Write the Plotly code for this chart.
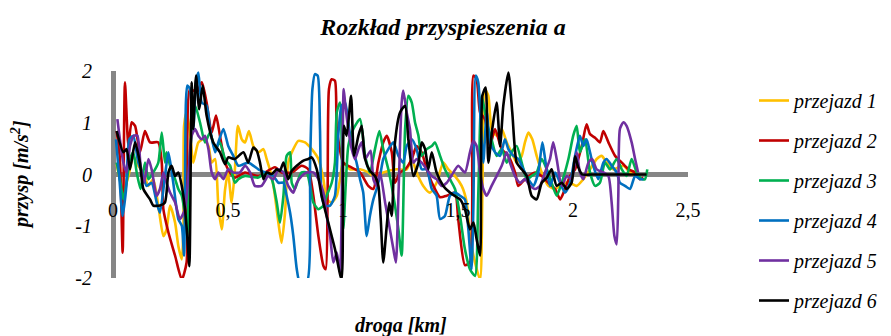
import plotly.graph_objects as go

title_text = "Rozkład przyspieszenia a"
x_title = "droga [km]"
y_title = "przysp [m/s<sup>2</sup>]"
series_names = ["przejazd 1", "przejazd 2", "przejazd 3", "przejazd 4", "przejazd 5", "przejazd 6"]
series_colors = ["#FFC000", "#C00000", "#00B050", "#0070C0", "#7030A0", "#000000"]
x_tick_vals = [0, 0.5, 1, 1.5, 2, 2.5]
x_tick_text = ["0", "0,5", "1", "1,5", "2", "2,5"]
y_tick_vals = [-2, -1, 0, 1, 2]
y_tick_text = ["-2", "-1", "0", "1", "2"]

# (droga [km], przyspieszenie [m/s2])
p1 = [(0.016, 0.20), (0.045, -0.35), (0.067, -0.03), (0.088, 0.36), (0.110, 0.17), (0.132, 0.04),
      (0.154, -0.22), (0.175, -0.09), (0.197, -0.60), (0.219, -1.19), (0.233, -1.06), (0.248, -0.60),
      (0.270, -0.93), (0.284, -1.38), (0.299, -1.64), (0.306, -1.06), (0.309, 0.94), (0.320, 1.20),
      (0.335, 0.81), (0.349, 0.23), (0.371, 0.62), (0.393, 0.68), (0.415, 0.55), (0.429, 0.23),
      (0.444, 0.30), (0.458, -0.60), (0.473, -1.06), (0.487, -0.30), (0.500, 0.04), (0.516, -0.54),
      (0.530, 0.10), (0.543, 0.94), (0.560, 0.68), (0.574, 0.62), (0.591, 0.84), (0.610, 0.55),
      (0.632, 0.43), (0.654, 0.49), (0.668, 0.30), (0.690, -0.03), (0.704, -0.41), (0.719, -0.93),
      (0.733, -1.32), (0.748, -0.74), (0.762, 0.23), (0.784, 0.49), (0.806, 0.65), (0.835, 0.62),
      (0.864, 0.49), (0.893, 0.30), (0.915, -0.09), (0.929, -0.48), (0.951, -0.54), (0.973, -0.41),
      (0.987, -0.09), (1.000, 0.23), (1.030, 0.10), (1.074, 0.10), (1.110, 0.04), (1.132, -0.03),
      (1.175, 0.04), (1.233, 0.10), (1.277, 0.10), (1.299, 0.30), (1.320, 0.04), (1.349, -0.22),
      (1.378, -0.35), (1.407, -0.16), (1.436, 0.23), (1.458, 0.10), (1.487, -0.03), (1.516, -0.22),
      (1.538, -0.54), (1.552, -1.19), (1.574, -1.70), (1.596, -2.03), (1.606, -0.41), (1.617, 1.65),
      (1.632, 1.52), (1.646, 0.88), (1.668, 0.75), (1.690, 0.88), (1.712, 0.62), (1.733, 0.43),
      (1.755, 0.23), (1.777, 0.36), (1.791, 0.62), (1.806, 0.81), (1.823, 0.68), (1.842, 0.36),
      (1.864, 0.04), (1.893, -0.22), (1.922, -0.28), (1.965, -0.16), (1.987, -0.16), (2.016, -0.22),
      (2.045, -0.09), (2.074, 0.10), (2.103, 0.30), (2.125, 0.36), (2.146, 0.23), (2.175, 0.10),
      (2.219, 0.17), (2.248, 0.04), (2.277, -0.03)]

p2 = [(0.016, 0.84), (0.030, 0.30), (0.042, -1.51), (0.052, 1.78), (0.067, 0.55), (0.081, 1.01),
      (0.096, 0.94), (0.117, 0.43), (0.139, 0.84), (0.161, 0.62), (0.197, 0.62), (0.212, 0.23),
      (0.219, -0.67), (0.241, -1.12), (0.270, -1.57), (0.299, -2.03), (0.320, -1.70), (0.335, 1.65),
      (0.364, 1.59), (0.386, 1.78), (0.407, 1.39), (0.429, 0.81), (0.448, 1.14), (0.465, 0.75),
      (0.487, 0.23), (0.509, 0.04), (0.530, -0.06), (0.574, 0.04), (0.632, -0.03), (0.704, 0.14),
      (0.733, 0.04), (0.777, 0.04), (0.820, 0.17), (0.849, 0.10), (0.871, -0.41), (0.893, -1.19),
      (0.915, -1.77), (0.925, -1.83), (0.933, -0.41), (0.939, 1.65), (0.951, 1.84), (0.965, 1.81),
      (0.973, 0.88), (1.001, 0.23), (1.030, 0.15), (1.074, 0.04), (1.110, -0.22), (1.132, -0.28),
      (1.154, 0.23), (1.175, 0.62), (1.190, 0.75), (1.212, 0.43), (1.226, -0.16), (1.248, 0.04),
      (1.270, 0.10), (1.299, 0.30), (1.320, 0.55), (1.342, 0.43), (1.364, 0.10), (1.393, -0.22),
      (1.422, -0.44), (1.451, -0.41), (1.487, -0.35), (1.501, -0.86), (1.530, -1.75), (1.552, -1.70),
      (1.567, 1.91), (1.581, 1.84), (1.596, 1.20), (1.617, 1.07), (1.639, 0.55), (1.661, 0.88),
      (1.690, 0.49), (1.719, 0.36), (1.748, 0.04), (1.762, -0.22), (1.791, -0.09), (1.835, 0.04),
      (1.864, -0.03), (1.893, -0.16), (1.922, -0.28), (1.944, -0.48), (1.965, -0.28), (1.987, -0.03),
      (2.009, 0.10), (2.038, 0.55), (2.059, 0.97), (2.074, 0.78), (2.096, 0.71), (2.117, 0.62),
      (2.132, 0.84), (2.154, 0.62), (2.183, 0.36), (2.212, 0.23), (2.241, 0.10), (2.270, 0.04),
      (2.291, -0.09), (2.306, -0.06)]

p3 = [(0.016, 0.23), (0.030, -0.09), (0.045, -0.48), (0.059, -0.16), (0.074, 0.30), (0.088, 0.43),
      (0.103, 0.04), (0.120, -0.28), (0.139, 0.23), (0.154, -0.09), (0.175, 0.04), (0.197, 0.23),
      (0.212, 0.81), (0.226, 0.23), (0.233, 0.43), (0.248, 0.17), (0.270, -0.09), (0.284, -0.28),
      (0.299, -0.41), (0.313, -0.80), (0.323, -1.19), (0.332, 0.23), (0.357, 1.33), (0.378, 1.01),
      (0.400, 0.62), (0.422, 0.81), (0.444, 0.49), (0.465, 0.62), (0.487, 0.30), (0.509, 0.17),
      (0.530, -0.16), (0.545, -0.09), (0.574, -0.03), (0.632, -0.06), (0.661, 0.04), (0.690, -0.09),
      (0.712, -0.54), (0.726, -0.93), (0.741, -0.41), (0.755, 0.36), (0.770, 0.43), (0.777, -0.16),
      (0.791, -0.28), (0.806, -0.09), (0.820, 0.04), (0.842, 0.04), (0.857, -0.22), (0.871, -0.54),
      (0.893, -0.67), (0.915, -0.60), (0.929, -0.41), (0.951, -0.16), (0.965, 0.23), (0.973, 1.20),
      (0.987, 1.39), (1.001, -1.06), (1.023, 0.55), (1.045, 0.88), (1.074, 1.07), (1.096, 0.36),
      (1.117, 0.04), (1.139, 0.49), (1.158, 0.84), (1.175, 0.49), (1.197, 0.10), (1.219, -0.41),
      (1.241, -1.06), (1.255, -1.57), (1.270, 0.88), (1.284, 1.52), (1.299, 1.39), (1.313, 1.01),
      (1.328, 0.75), (1.342, 0.36), (1.364, 0.49), (1.386, 0.55), (1.400, 0.62), (1.422, 0.36),
      (1.443, 0.10), (1.465, -0.09), (1.487, -0.28), (1.509, -0.80), (1.530, -1.44), (1.552, -1.83),
      (1.574, -1.96), (1.588, -0.41), (1.603, 1.52), (1.625, 1.01), (1.646, 0.68), (1.668, 0.36),
      (1.690, 0.49), (1.712, 0.23), (1.733, 0.43), (1.755, 0.55), (1.777, 0.23), (1.799, -0.09),
      (1.820, -0.03), (1.842, 0.04), (1.864, 0.30), (1.886, 0.10), (1.907, -0.16), (1.929, -0.41),
      (1.951, -0.16), (1.980, 0.30), (2.001, 0.75), (2.016, 0.94), (2.030, 0.43), (2.052, 0.68),
      (2.074, 0.04), (2.096, -0.22), (2.117, -0.16), (2.139, 0.23), (2.161, 0.10), (2.190, 0.30),
      (2.212, 0.10), (2.233, -0.03), (2.255, 0.30), (2.277, 0.04), (2.299, -0.09), (2.313, -0.09),
      (2.323, 0.10)]

p4 = [(0.013, 0.68), (0.028, -0.09), (0.042, -0.80), (0.057, -0.28), (0.071, 0.68), (0.088, 0.75),
      (0.110, 0.23), (0.132, -0.03), (0.146, -0.22), (0.168, -0.16), (0.190, -0.54), (0.204, -0.74),
      (0.226, -0.03), (0.241, 0.43), (0.262, -0.16), (0.284, -0.86), (0.299, -0.99), (0.309, -1.57),
      (0.317, 1.39), (0.323, 1.72), (0.335, 1.65), (0.349, 0.88), (0.361, 1.78), (0.371, 1.97),
      (0.386, 1.39), (0.407, 1.33), (0.422, 0.88), (0.444, 0.43), (0.458, 0.62), (0.480, 0.88),
      (0.501, 0.55), (0.523, 0.36), (0.545, 0.17), (0.588, 0.23), (0.632, 0.10), (0.661, 0.04),
      (0.697, -0.03), (0.719, -0.16), (0.741, -0.16), (0.755, -0.41), (0.770, -0.74), (0.784, -1.19),
      (0.799, -1.83), (0.813, -2.10), (0.845, -2.05), (0.857, 0.23), (0.867, 1.65), (0.878, 1.94),
      (0.890, 1.91), (0.900, 0.88), (0.907, -0.41), (0.922, -0.60), (0.944, -0.60), (0.965, -0.41),
      (0.980, 0.80), (0.994, 1.33), (1.009, 1.39), (1.023, 1.01), (1.038, 0.55), (1.059, 0.23),
      (1.074, -0.09), (1.088, -0.35), (1.103, -1.19), (1.117, -0.80), (1.132, -0.48), (1.146, -0.28),
      (1.161, -0.03), (1.175, 0.30), (1.197, 0.49), (1.219, 0.62), (1.241, 0.36), (1.262, 0.23),
      (1.277, 0.55), (1.299, 0.68), (1.320, 0.49), (1.342, 0.10), (1.364, 0.10), (1.386, -0.28),
      (1.407, -0.41), (1.422, -0.86), (1.443, -0.80), (1.465, -0.41), (1.487, -0.35), (1.509, -0.41),
      (1.530, -0.48), (1.545, -1.06), (1.559, -1.83), (1.567, -0.60), (1.577, 1.91), (1.588, 1.78),
      (1.600, 0.88), (1.610, 0.23), (1.625, 1.20), (1.639, 0.62), (1.661, 0.43), (1.683, 0.36),
      (1.704, 0.68), (1.719, 0.49), (1.741, 0.36), (1.762, 0.30), (1.784, 0.10), (1.806, -0.09),
      (1.828, -0.22), (1.849, 0.04), (1.867, 0.62), (1.881, 0.23), (1.900, -0.22), (1.922, 0.04),
      (1.944, -0.16), (1.965, -0.35), (1.987, -0.16), (2.009, 0.36), (2.030, 0.75), (2.045, 0.55),
      (2.059, 0.68), (2.074, 0.43), (2.088, 0.17), (2.110, -0.09), (2.132, 0.23), (2.146, 0.30),
      (2.168, 0.17), (2.190, 0.04), (2.204, -0.16), (2.226, -0.22), (2.248, -0.28), (2.270, -0.03),
      (2.291, -0.09), (2.306, -0.09)]

p5 = [(0.019, 1.07), (0.030, 0.68), (0.045, 0.23), (0.059, 0.04), (0.074, 0.55), (0.091, 0.75),
      (0.106, 0.75), (0.120, 0.17), (0.135, -0.16), (0.154, 0.30), (0.168, 0.10), (0.190, -0.41),
      (0.204, -0.28), (0.219, 0.04), (0.233, -0.16), (0.248, -0.35), (0.270, -0.54), (0.291, -0.86),
      (0.313, -0.67), (0.328, -0.03), (0.342, 0.75), (0.357, 0.88), (0.371, 0.75), (0.386, 0.68),
      (0.400, 0.75), (0.415, 0.49), (0.429, 0.04), (0.444, -0.09), (0.458, 0.04), (0.480, -0.09),
      (0.501, 0.10), (0.523, 0.04), (0.552, 0.04), (0.574, 0.17), (0.596, 0.04), (0.617, -0.22),
      (0.646, -0.22), (0.675, -0.03), (0.697, -0.09), (0.719, 0.10), (0.741, 0.04), (0.762, -0.22),
      (0.784, -0.35), (0.799, -0.16), (0.820, -0.03), (0.842, 0.04), (0.871, 0.04), (0.893, -0.09),
      (0.915, -0.35), (0.929, -0.80), (0.944, -1.19), (0.958, -1.70), (0.973, -1.51), (0.987, -1.90),
      (0.997, 0.23), (1.003, 1.65), (1.009, 1.39), (1.023, 0.88), (1.038, 0.49), (1.052, 0.30),
      (1.067, 0.49), (1.081, 0.62), (1.096, 0.30), (1.120, 0.46), (1.132, -0.09), (1.146, -0.22),
      (1.161, 0.04), (1.183, -0.54), (1.204, -1.06), (1.219, -1.44), (1.230, -1.70), (1.241, -0.41),
      (1.255, 1.39), (1.262, 1.62), (1.277, 1.20), (1.291, 0.88), (1.306, 0.23), (1.320, 0.30),
      (1.342, 0.23), (1.364, 0.10), (1.386, -0.03), (1.407, -0.09), (1.429, -0.22), (1.451, -0.16),
      (1.480, 0.04), (1.501, 0.17), (1.530, 0.04), (1.552, 0.43), (1.567, 0.65), (1.581, 0.55),
      (1.596, 0.04), (1.610, -0.28), (1.625, -0.41), (1.646, -0.22), (1.668, -0.03), (1.690, 0.17),
      (1.712, 0.43), (1.726, 0.23), (1.748, -0.03), (1.770, -0.16), (1.791, -0.09), (1.813, -0.22),
      (1.835, -0.28), (1.857, -0.22), (1.878, 0.04), (1.900, 0.30), (1.914, 0.62), (1.929, 0.30),
      (1.951, -0.22), (1.973, -0.03), (1.994, -0.09), (2.016, 0.43), (2.030, 0.04), (2.045, -0.09),
      (2.067, 0.23), (2.083, 0.30), (2.103, 0.10), (2.132, 0.04), (2.154, -0.03), (2.168, -0.54),
      (2.180, -1.19), (2.190, -1.35), (2.197, -0.41), (2.204, 0.88), (2.219, 1.01), (2.233, 0.94),
      (2.255, 0.62), (2.270, 0.30), (2.283, 0.04)]

p6 = [(0.016, 0.84), (0.045, 0.43), (0.059, 0.49), (0.074, 0.10), (0.096, 0.62), (0.117, 0.23),
      (0.132, -0.28), (0.161, -0.48), (0.175, -0.60), (0.204, -0.60), (0.226, -0.54), (0.241, 0.04),
      (0.255, 0.17), (0.270, -0.03), (0.284, 0.04), (0.299, -0.22), (0.313, -0.67), (0.323, -1.19),
      (0.332, -1.77), (0.342, 1.78), (0.349, 0.88), (0.361, 1.91), (0.375, 1.26), (0.390, 1.72),
      (0.407, 1.14), (0.436, 0.62), (0.465, 0.43), (0.487, 0.20), (0.501, 0.33), (0.530, 0.30),
      (0.567, 0.43), (0.588, 0.23), (0.610, 0.52), (0.625, 0.46), (0.639, 0.23), (0.654, -0.09),
      (0.668, 0.04), (0.690, 0.01), (0.712, 0.10), (0.726, 0.07), (0.741, 0.23), (0.762, -0.09),
      (0.777, 0.07), (0.799, 0.17), (0.828, 0.27), (0.849, 0.30), (0.864, 0.33), (0.886, 0.10),
      (0.907, -0.41), (0.936, -0.93), (0.965, -1.44), (0.994, -2.03), (1.004, 0.94), (1.016, 0.75),
      (1.035, 1.52), (1.048, 0.36), (1.067, 0.75), (1.081, 0.94), (1.096, 0.30), (1.117, 0.07),
      (1.139, -0.03), (1.154, -0.22), (1.164, -0.86), (1.175, -1.70), (1.190, -1.00), (1.201, -0.54),
      (1.212, -0.80), (1.226, 0.62), (1.248, 1.20), (1.270, 1.33), (1.284, 0.68), (1.306, -0.03),
      (1.328, 0.23), (1.342, 0.62), (1.357, 0.49), (1.371, 0.10), (1.386, 0.43), (1.407, 0.04),
      (1.436, -0.22), (1.465, -0.35), (1.494, -0.44), (1.509, -0.48), (1.530, -0.67), (1.552, -1.06),
      (1.567, -0.93), (1.581, -1.25), (1.596, -1.57), (1.606, 1.52), (1.620, 1.68), (1.632, 0.23),
      (1.649, 0.88), (1.668, 1.39), (1.683, 0.55), (1.697, 1.33), (1.719, 1.97), (1.736, 1.20),
      (1.755, 0.23), (1.777, 0.10), (1.799, -0.03), (1.820, -0.41), (1.842, -0.48), (1.864, -0.16),
      (1.886, -0.06), (1.907, 0.10), (1.929, -0.22), (1.951, -0.16), (1.973, -0.28), (1.994, -0.16),
      (2.009, 0.35), (2.022, 0.15), (2.040, 0.00), (2.080, 0.00), (2.140, 0.00), (2.200, 0.00),
      (2.260, 0.00), (2.320, 0.00)]

all_series = [p1, p2, p3, p4, p5, p6]

FONT = "Liberation Serif, Times New Roman, serif"

# The page body adds an 8 px offset, so every position is shifted 8 px up/left
# and the figure is 8 px smaller than the window.
W, H = 883, 328
ML, MT = 105, 63
PW, PH = 575, 207
MR = W - ML - PW
MB = H - MT - PH
LEG_BW = 6

fig = go.Figure()
for i, (name, color, pts) in enumerate(zip(series_names, series_colors, all_series)):
    xs = [p[0] for p in pts]
    ys = [p[1] for p in pts]
    fig.add_trace(go.Scatter(
        x=xs, y=ys, mode="lines", name=name, legendgroup=f"g{i}",
        line=dict(color=color, width=2.6, shape="spline", smoothing=0.6),
        hoverinfo="skip",
    ))

fig.update_layout(
    width=W, height=H,
    margin=dict(l=ML, r=MR, t=MT, b=MB, pad=0, autoexpand=False),
    paper_bgcolor="white", plot_bgcolor="white",
    font=dict(family=FONT, size=20, color="#000000"),
    title=dict(text=f"<b><i>{title_text}</i></b>", x=435 / W, xref="container", xanchor="center",
               y=1 - 19 / H, yref="container", yanchor="middle",
               font=dict(family=FONT, size=24, color="#000000")),
    showlegend=True,
    legend=dict(x=(746 - LEG_BW - ML) / PW, xanchor="left",
                y=1 - (73 - LEG_BW - MT) / PH, yanchor="top",
                font=dict(family=FONT, size=20, style="italic", color="#000000"),
                tracegroupgap=11, maxheight=320, bgcolor="rgba(0,0,0,0)",
                borderwidth=LEG_BW, bordercolor="rgba(0,0,0,0)"),
    xaxis=dict(range=[0, 2.5], tickvals=x_tick_vals, ticktext=x_tick_text,
               showgrid=False, showline=False, ticks="",
               zeroline=True, zerolinecolor="#868686", zerolinewidth=5,
               anchor="free", position=0.395,
               tickfont=dict(family=FONT, size=20, color="#000000")),
    yaxis=dict(range=[-2, 2], tickvals=y_tick_vals, ticktext=y_tick_text,
               showgrid=False, showline=False,
               ticks="outside", ticklen=16, tickcolor="rgba(0,0,0,0)",
               zeroline=True, zerolinecolor="#868686", zerolinewidth=5,
               tickfont=dict(family=FONT, size=20, style="italic", color="#000000")),
    annotations=[
        dict(text=f"<b><i>{x_title}</i></b>", xref="paper", yref="paper",
             x=(393 - ML) / PW, y=(MT + PH - 317) / PH, xanchor="center", yanchor="middle",
             showarrow=False, font=dict(family=FONT, size=20, color="#000000")),
        dict(text=f"<b><i>{y_title}</i></b>", xref="paper", yref="paper",
             x=(12 - ML) / PW, y=(MT + PH - 167) / PH, xanchor="center", yanchor="middle",
             textangle=-90, showarrow=False, font=dict(family=FONT, size=20, color="#000000")),
    ],
)

fig.write_html("out.html")
